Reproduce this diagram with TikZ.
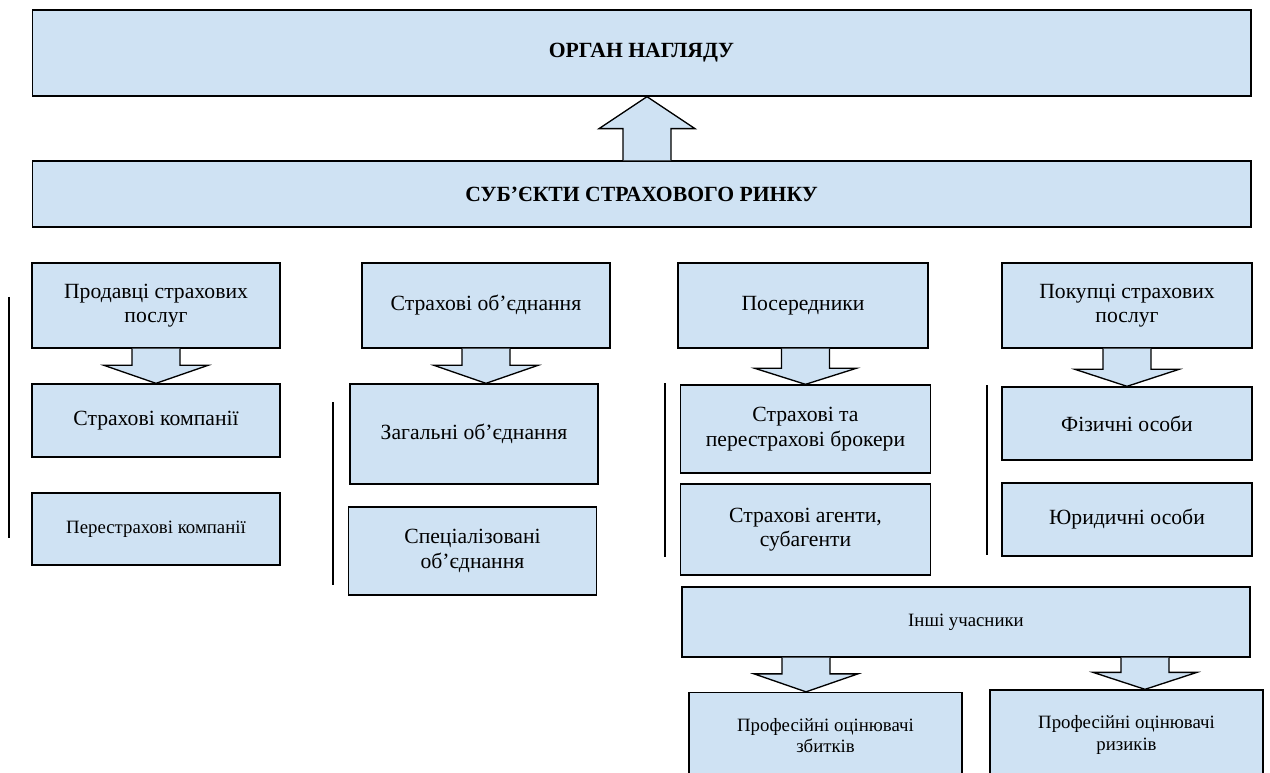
\documentclass[tikz,border=0pt]{standalone}
\usepackage{fontspec}
\setmainfont{Liberation Serif}
\usetikzlibrary{calc}
\definecolor{boxblue}{RGB}{207,226,243}
\tikzset{
  every picture/.style={line width=1pt},
  blockarrow/.style={draw, fill=boxblue, line join=miter}}

% block arrow: start point, tip, signed head length, head half width
\newcommand{\blockarr}[4]{%
  \draw[blockarrow] let \p1=(#1), \p2=(#2) in
    (\x2-18pt,\y1) -- (\x2-18pt,\y2#3) -- (\x2-#4,\y2#3) -- (\x2,\y2)
    -- (\x2+#4,\y2#3) -- (\x2+18pt,\y2#3) -- (\x2+18pt,\y1);}

\begin{document}
\begin{tikzpicture}[x=0.75pt, y=-0.75pt]
    \tikzstyle{box}=[draw, fill=boxblue, align=center, inner sep=2pt,
      font=\fontsize{16.25}{18.5}\selectfont]
    \tikzstyle{title}=[box, font=\fontsize{16.25}{18.5}\selectfont\bfseries, minimum width=914pt]
    \tikzstyle{small}=[font=\fontsize{14.1}{16}\selectfont]

    \useasboundingbox (0,0) rectangle (1270,773);

    \node[title, minimum height=64.5pt] (organ) at (641.5,53)  {ОРГАН НАГЛЯДУ};
    \node[title, minimum height=49.5pt] (subj)  at (641.5,194) {СУБ’ЄКТИ СТРАХОВОГО РИНКУ};

    \begin{scope}[every node/.append style={minimum width=186pt}]
      \node[box, minimum height=63.75pt] (sellers)   at (156,305.5) {Продавці страхових\\послуг};
      \node[box, minimum height=54.75pt] (insurers)  at (156,420.5) {Страхові компанії};
      \node[box, small, minimum height=54pt] (reinsurers) at (156,529) {Перестрахові компанії};

      \node[box, minimum height=63.75pt] (unions)    at (486,305.5) {Страхові об’єднання};
      \node[box, minimum height=75pt]    (general)   at (474,434)   {Загальні об’єднання};
      \node[box, minimum height=66pt]    (special)   at (472.5,551) {Спеціалізовані\\об’єднання};
    \end{scope}

    \begin{scope}[every node/.append style={minimum width=187.5pt}]
      \node[box, minimum height=63.75pt] (brokers)   at (803,305.5)  {Посередники};
      \node[box, minimum height=66pt]    (brokersub) at (805.5,429)  {Страхові та\\перестрахові брокери};
      \node[box, minimum height=68.25pt] (agents)    at (805.5,529.5) {Страхові агенти,\\субагенти};

      \node[box, minimum height=63.75pt] (buyers)    at (1127,305.5) {Покупці страхових\\послуг};
      \node[box, minimum height=54.75pt] (persons)   at (1127,423.5) {Фізичні особи};
      \node[box, minimum height=54.75pt] (legal)     at (1127,519.5) {Юридичні особи};
    \end{scope}

    \node[box, small, minimum width=426pt, minimum height=52.5pt] (others) at (966,622) {Інші учасники};
    \node[box, small, minimum width=204.75pt, minimum height=64.5pt] (lossval) at (825.5,735.5)
      {Професійні оцінювачі\\збитків};
    \node[box, small, minimum width=204.75pt, minimum height=67.5pt] (riskval) at (1126.5,735)
      {Професійні оцінювачі\\ризиків};

    % side lines
    \draw (9,297) -- (9,538);
    \draw (333,402) -- (333,585);
    \draw (665,383) -- (665,557);
    \draw (987,385) -- (987,555);

    \blockarr{subj.north}{$(organ.south)+(5.5,0)$}{-24pt}{36pt}
    \blockarr{sellers.south}{insurers.north}{+13.5pt}{39pt}
    \blockarr{unions.south}{$(general.north)+(12,0)$}{+13.5pt}{39pt}
    \blockarr{brokers.south}{brokersub.north}{+12pt}{38pt}
    \blockarr{buyers.south}{persons.north}{+12.75pt}{39pt}
    \blockarr{others.south}{$(lossval.north)+(-19.5,0)$}{+13.5pt}{39pt}
    \blockarr{others.south}{$(riskval.north)+(18.5,0)$}{+12.75pt}{39pt}
  \end{tikzpicture}
\end{document}
